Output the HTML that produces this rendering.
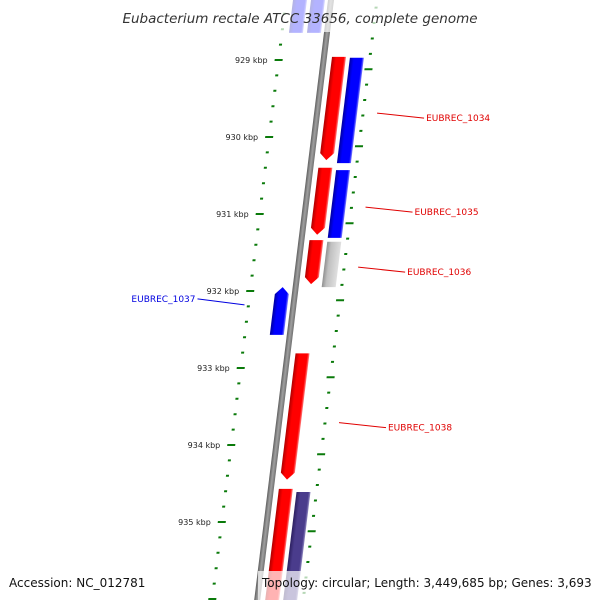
<!DOCTYPE html>
<html><head><meta charset="utf-8"><style>
html,body{margin:0;background:#fff;overflow:hidden;width:600px;height:600px}
svg{display:block;overflow:hidden;font-family:"DejaVu Sans","Liberation Sans",sans-serif}
</style></head><body>
<svg id="c" width="600" height="600" viewBox="0 0 600 600">
<defs>
<clipPath id="clip"><rect x="0" y="0" width="600" height="600"/></clipPath>
<linearGradient id="gr" x1="0" x2="1" y1="0" y2="0"><stop offset="0" stop-color="#b00000"/><stop offset="0.3" stop-color="#ff0000"/><stop offset="0.85" stop-color="#ff0000"/><stop offset="1" stop-color="#ff8080"/></linearGradient>
<linearGradient id="gb" x1="0" x2="1" y1="0" y2="0"><stop offset="0" stop-color="#0000a0"/><stop offset="0.3" stop-color="#0000ff"/><stop offset="0.85" stop-color="#0000ff"/><stop offset="1" stop-color="#8080ff"/></linearGradient>
<linearGradient id="gg" x1="0" x2="1" y1="0" y2="0"><stop offset="0" stop-color="#909090"/><stop offset="0.3" stop-color="#c0c0c0"/><stop offset="1" stop-color="#e0e0e0"/></linearGradient>
<linearGradient id="gp" x1="0" x2="1" y1="0" y2="0"><stop offset="0" stop-color="#2c2060"/><stop offset="0.3" stop-color="#4a3c8c"/><stop offset="0.85" stop-color="#4a3c8c"/><stop offset="1" stop-color="#9088c0"/></linearGradient>
<linearGradient id="gk" x1="0" x2="1" y1="0" y2="0"><stop offset="0" stop-color="#606060"/><stop offset="0.5" stop-color="#a0a0a0"/><stop offset="1" stop-color="#707070"/></linearGradient>
</defs>
<g clip-path="url(#clip)">
<g id="rot" transform="matrix(1,0,-0.123,1,331,0)"></g>
</g>
<g id="labels"></g>
</svg>
<script>
const geneStarts=[928.10,928.10,928.96,928.97,930.40,930.43,931.34,931.36,931.95,932.81,934.57,934.61];
const geneEnds  =[928.64,928.64,930.30,930.34,931.27,931.31,931.91,931.95,932.57,934.45,936.20,936.20];
const geneLanes =[-2,-1,1,2,1,2,1,2,-1,1,1,2];
const geneColors=['gb','gb','gr','gb','gr','gb','gr','gg','gb','gr','gr','gp'];
const geneArrows=[0,0,1,0,1,0,1,0,-1,1,0,0];
const tickKbp=[929,930,931,932,933,934,935];
const tickLabels=['929 kbp','930 kbp','931 kbp','932 kbp','933 kbp','934 kbp','935 kbp'];
const geneLabels=['EUBREC_1034','EUBREC_1035','EUBREC_1036','EUBREC_1037','EUBREC_1038'];
const labelKbp=[929.69,930.91,931.69,932.18,933.71];
const labelSide=[1,1,1,-1,1];

const NS='http://www.w3.org/2000/svg';
function v(k){return 60+(k-929)*77;}
function scr(u,y){return [331-0.123*y+u,y];}
const rot=document.getElementById('rot'),lab=document.getElementById('labels');
function mk(tag,attrs,parent){const e=document.createElementNS(NS,tag);for(const k in attrs)e.setAttribute(k,attrs[k]);parent.appendChild(e);return e;}
let bb=mk('rect',{x:-3,y:-10,width:6,height:620,fill:'url(#gk)'},rot);


for(let k=928;k<=936.01;k+=0.2){
  const kk=Math.round(k*10)/10;
  const isMaj=Math.abs(kk-Math.round(kk))<0.01;
  let d=mk('rect',{x:isMaj?-49:-46.5,y:v(kk)-1,width:isMaj?8:3,height:2,fill:'#0a7a0a'},rot);
  
  
  const kr=kk+0.12;
  let d2=mk('rect',{x:isMaj?42:44.5,y:v(kr)-1,width:isMaj?8:3,height:2,fill:'#0a7a0a'},rot);
  
  
}
const laneU={'1':8,'2':26,'-1':-20,'-2':-38};
for(let i=0;i<geneStarts.length;i++){
  const u0=laneU[geneLanes[i]],w=14,y0=v(geneStarts[i]),y1=v(geneEnds[i]);
  let pts;
  if(geneArrows[i]===1) pts=[[u0,y0],[u0+w,y0],[u0+w,y1-7],[u0+w/2,y1],[u0,y1-7]];
  else if(geneArrows[i]===-1) pts=[[u0+w/2,y0],[u0+w,y0+7],[u0+w,y1],[u0,y1],[u0,y0+7]];
  else pts=[[u0,y0],[u0+w,y0],[u0+w,y1],[u0,y1]];
  let p=mk('polygon',{points:pts.map(a=>a.join(',')).join(' '),fill:'url(#'+geneColors[i]+')'},rot);
  
  
}
tickKbp.forEach((k,i)=>{
  const [x,y]=scr(-56,v(k));
  let t=mk('text',{x:x,y:y+3,'font-size':8,'text-anchor':'end',fill:'#222'},lab);
  t.textContent=tickLabels[i];
  
  
});
geneLabels.forEach((g,i)=>{
  const s=labelSide[i];
  const [x,y]=scr(s>0?60:-49,v(labelKbp[i]));
  const col=s>0?'#e00000':'#0000e0';
  const x2=x+s*47,y2=y+(s>0?5:-6);
  let l=mk('line',{x1:x,y1:y,x2:x2,y2:y2,stroke:col,'stroke-width':1},lab);
  
  
  let t=mk('text',{x:x2+s*2,y:y2+3,'font-size':9,'text-anchor':s>0?'start':'end',fill:col},lab);
  t.textContent=g;
  
  
});
function txtBox(x,y,w,h,name){let r=mk('rect',{x:x,y:y,width:w,height:h,fill:'#fff','fill-opacity':0.7},lab);}
txtBox(114,0,372,32,'title-background');
let tt=mk('text',{x:300,y:23,'font-size':13.5,'text-anchor':'middle','font-style':'italic',fill:'#333'},lab);
tt.textContent='Eubacterium rectale ATCC 33656, complete genome';


txtBox(0,570,140,30,'accession-background');
let a=mk('text',{x:9,y:587,'font-size':12,fill:'#111'},lab);
a.textContent='Accession: NC_012781';


txtBox(258,571,342,29,'topology-background');
let b=mk('text',{x:262,y:587,'font-size':12,fill:'#111'},lab);
b.textContent='Topology: circular; Length: 3,449,685 bp; Genes: 3,693';


</script>
</body></html>
